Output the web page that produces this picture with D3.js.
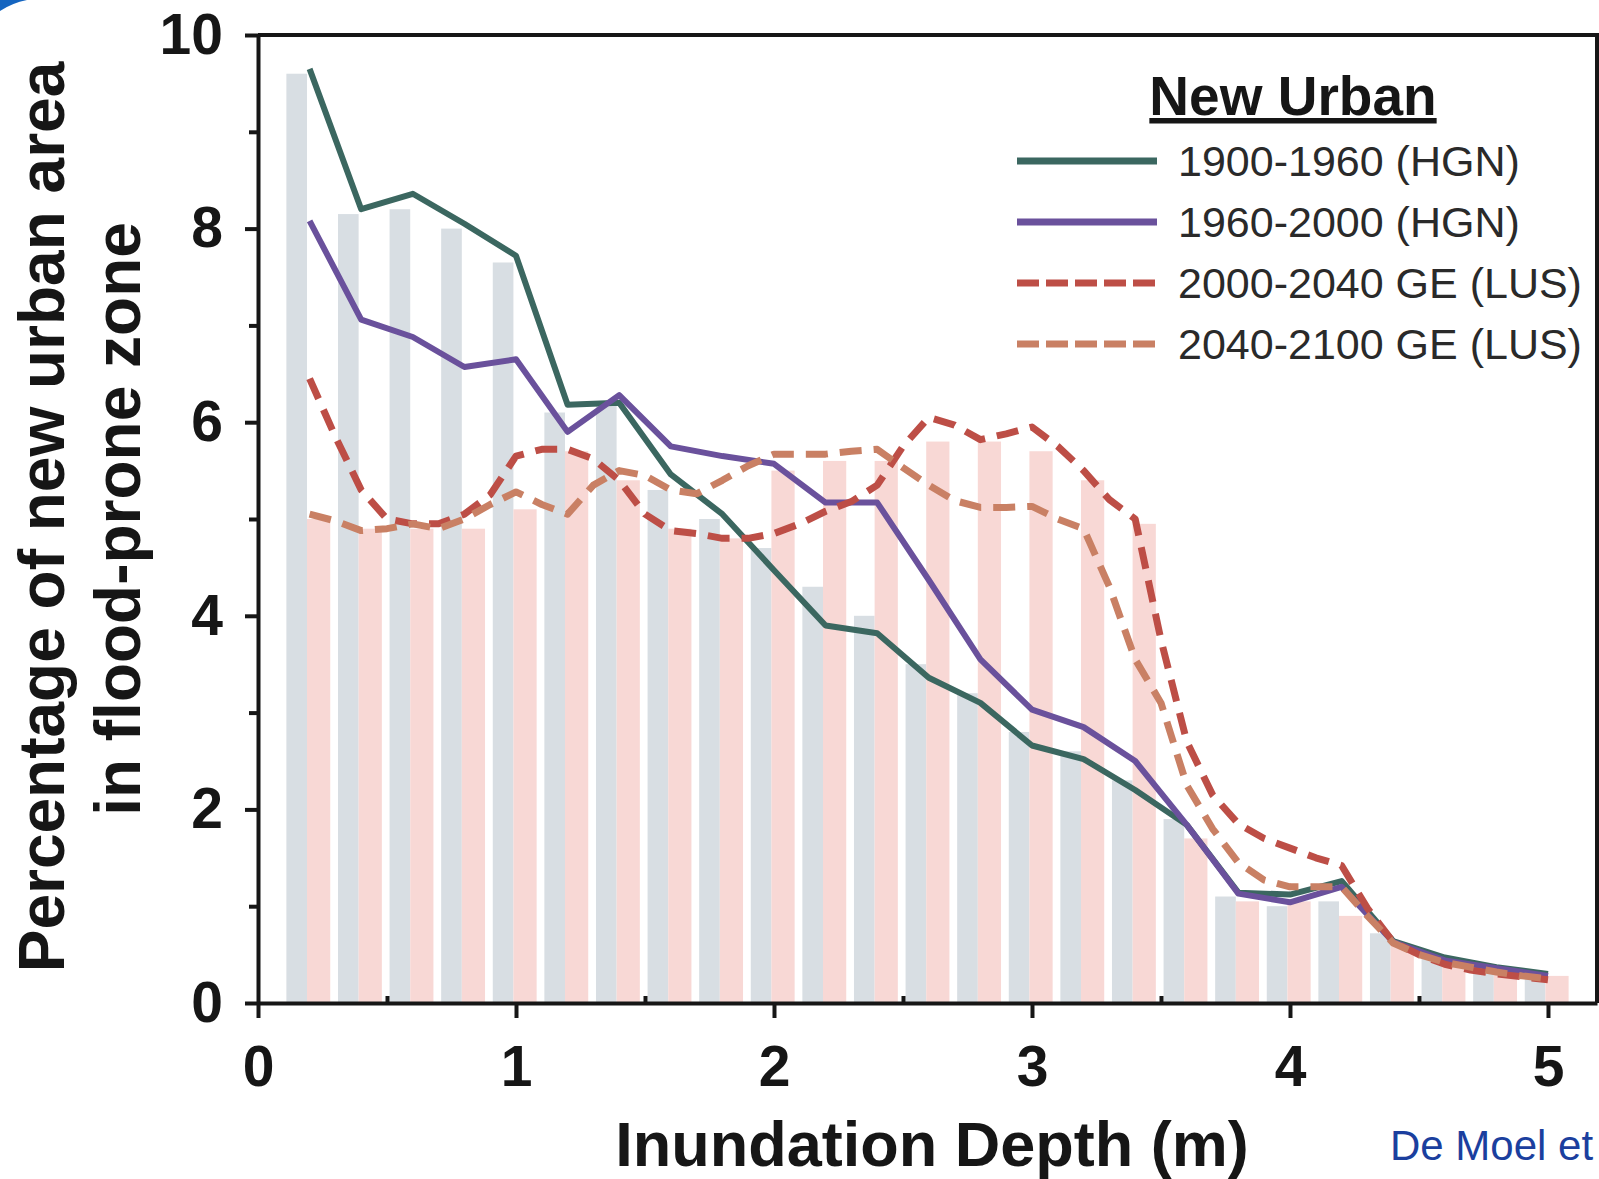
<!DOCTYPE html>
<html>
<head>
<meta charset="utf-8">
<script src="https://cdn.jsdelivr.net/npm/d3@7"></script>
<style>
  html, body { margin: 0; padding: 0; background: #fff; }
  svg { display: block; font-family: "Liberation Sans", Arial, sans-serif; }
</style>
</head>
<body>
<div id="chart"></div>
<script>
// depth classes (m) for the HGN lines and the background bars
const depth = [0.2, 0.4, 0.6, 0.8, 1.0, 1.2, 1.4, 1.6, 1.8, 2.0, 2.2, 2.4, 2.6,
  2.8, 3.0, 3.2, 3.4, 3.6, 3.8, 4.0, 4.2, 4.4, 4.6, 4.8, 5.0];

// finer depth steps for the LUS scenario lines
const depthFine = [0.2, 0.3, 0.4, 0.5, 0.6, 0.7, 0.8, 0.9, 1.0, 1.1, 1.2, 1.3, 1.4,
  1.5, 1.6, 1.7, 1.8, 1.9, 2.0, 2.1, 2.2, 2.3, 2.4, 2.5, 2.6, 2.7, 2.8, 2.9, 3.0,
  3.1, 3.2, 3.3, 3.4, 3.5, 3.6, 3.7, 3.8, 3.9, 4.0, 4.1, 4.2, 4.3, 4.4, 4.5, 4.6,
  4.7, 4.8, 4.9, 5.0];

const hgn1900 = [9.65, 8.2, 8.36, 8.05, 7.72, 6.18, 6.2, 5.46, 5.05, 4.47, 3.9, 3.82,
  3.36, 3.1, 2.66, 2.52, 2.2, 1.84, 1.14, 1.12, 1.26, 0.64, 0.47, 0.37, 0.3];

const hgn1960 = [8.08, 7.06, 6.88, 6.57, 6.65, 5.9, 6.28, 5.75, 5.65, 5.57, 5.17, 5.17,
  4.37, 3.55, 3.03, 2.85, 2.5, 1.84, 1.13, 1.04, 1.2, 0.63, 0.44, 0.36, 0.28];

const lus2040 = [6.45, 5.85, 5.3, 5.0, 4.95, 4.95, 5.05, 5.25, 5.65, 5.72, 5.72, 5.62,
  5.4, 5.05, 4.88, 4.85, 4.8, 4.8, 4.85, 4.95, 5.08, 5.18, 5.35, 5.75, 6.05, 5.97,
  5.82, 5.88, 5.95, 5.75, 5.5, 5.2, 5.0, 3.75, 2.7, 2.15, 1.85, 1.7, 1.6, 1.5, 1.42,
  0.98, 0.63, 0.5, 0.4, 0.34, 0.3, 0.27, 0.24];

const lus2100 = [5.05, 4.98, 4.88, 4.9, 4.95, 4.9, 5.0, 5.15, 5.28, 5.15, 5.05, 5.35,
  5.5, 5.45, 5.3, 5.26, 5.4, 5.55, 5.67, 5.67, 5.67, 5.7, 5.72, 5.53, 5.35, 5.19,
  5.12, 5.12, 5.13, 5.0, 4.9, 4.3, 3.55, 3.1, 2.25, 1.8, 1.45, 1.27, 1.2, 1.2, 1.2,
  0.9, 0.62, 0.5, 0.42, 0.37, 0.32, 0.28, 0.25];

// faint histogram bars behind the lines
const barsBlue = [9.6, 8.15, 8.2, 8.0, 7.65, 6.1, 6.2, 5.3, 5.0, 4.7, 4.3, 4.0, 3.5,
  3.2, 2.8, 2.6, 2.3, 1.9, 1.1, 1.0, 1.05, 0.72, 0.5, 0.38, 0.3];
const barsPink = [5.0, 4.9, 4.9, 4.9, 5.1, 5.7, 5.4, 4.9, 4.8, 5.5, 5.6, 5.6, 5.8,
  5.8, 5.7, 5.4, 4.95, 1.7, 1.05, 1.05, 0.9, 0.6, 0.45, 0.35, 0.28];

const seriesNames = ['1900-1960 (HGN)', '1960-2000 (HGN)', '2000-2040 GE (LUS)', '2040-2100 GE (LUS)'];
const xTicks = [0, 1, 2, 3, 4, 5];
const xMinorTicks = [0.5, 1.5, 2.5, 3.5, 4.5];
const yTicks = [0, 2, 4, 6, 8, 10];
const yMinorTicks = [1, 3, 5, 7, 9];

const W = 1599, H = 1179;
const FONT = '"Liberation Sans", Arial, sans-serif';
const INK = '#161616';

const series = [
  { name: seriesNames[0], xs: depth, ys: hgn1900, color: '#3b6760', dash: null, width: 6 },
  { name: seriesNames[1], xs: depth, ys: hgn1960, color: '#6a519c', dash: null, width: 6 },
  { name: seriesNames[2], xs: depthFine, ys: lus2040, color: '#bd4e46', dash: '22,12', width: 7 },
  { name: seriesNames[3], xs: depthFine, ys: lus2100, color: '#c98064', dash: '22,12', width: 7 }
];

const svg = d3.select('#chart').append('svg')
  .attr('width', W).attr('height', H);

const x = d3.scaleLinear().domain([0, 5.19]).range([258, 1597]);
const y = d3.scaleLinear().domain([0, 10]).range([1003, 35]);

// corner artifact of the slide
svg.append('path')
  .attr('d', 'M0,0 H27 Q12,3 0,11 Z')
  .attr('fill', '#1565c0');

// background bars: blue-grey left half, pink right half of each depth class
const bars = svg.append('g').attr('class', 'bars');
bars.selectAll('rect.blue')
  .data(depth.map((d, i) => ({ d, v: barsBlue[i] })))
  .enter().append('rect')
  .attr('class', 'blue')
  .attr('x', (p) => x(p.d - 0.09))
  .attr('width', x(0.08) - x(0))
  .attr('y', (p) => y(p.v))
  .attr('height', (p) => y(0) - y(p.v))
  .attr('fill', '#d8dee3');
bars.selectAll('rect.pink')
  .data(depth.map((d, i) => ({ d, v: barsPink[i] })))
  .enter().append('rect')
  .attr('class', 'pink')
  .attr('x', (p) => x(p.d - 0.01))
  .attr('width', x(0.09) - x(0))
  .attr('y', (p) => y(p.v))
  .attr('height', (p) => y(0) - y(p.v))
  .attr('fill', '#f8d8d5');

// lines
const line = d3.line().x((p) => x(p[0])).y((p) => y(p[1]));
const linesG = svg.append('g').attr('class', 'lines');
series.forEach((s) => {
  linesG.append('path')
    .attr('d', line(s.xs.map((d, i) => [d, s.ys[i]])))
    .attr('fill', 'none')
    .attr('stroke', s.color)
    .attr('stroke-width', s.width)
    .attr('stroke-linejoin', 'round')
    .attr('stroke-dasharray', s.dash);
});

// frame (top and right)
svg.append('path')
  .attr('d', `M${x(0)},${y(10)} H${x(5.19)} V${y(0)}`)
  .attr('fill', 'none')
  .attr('stroke', INK)
  .attr('stroke-width', 4);

// axes
function styleAxis(g, size) {
  g.select('.domain').attr('stroke', INK).attr('stroke-width', 4);
  g.selectAll('.tick line').attr('stroke', INK).attr('stroke-width', 4);
  g.selectAll('.tick text')
    .attr('fill', INK)
    .attr('font-family', FONT)
    .attr('font-weight', 'bold')
    .attr('font-size', size);
}

const xAxis = svg.append('g')
  .attr('transform', `translate(0,${y(0)})`)
  .call(d3.axisBottom(x).tickValues(xTicks).tickFormat(d3.format('d'))
    .tickSize(15).tickSizeOuter(0).tickPadding(28));
styleAxis(xAxis, 57);

const xMinor = svg.append('g')
  .attr('transform', `translate(0,${y(0)})`)
  .call(d3.axisTop(x).tickValues(xMinorTicks).tickFormat('').tickSize(7).tickSizeOuter(0));
styleAxis(xMinor, 0);
xMinor.select('.domain').remove();

const yAxis = svg.append('g')
  .attr('transform', `translate(${x(0)},0)`)
  .call(d3.axisLeft(y).tickValues(yTicks).tickFormat(d3.format('d'))
    .tickSize(13).tickSizeOuter(0).tickPadding(22));
styleAxis(yAxis, 57);

const yMinor = svg.append('g')
  .attr('transform', `translate(${x(0)},0)`)
  .call(d3.axisLeft(y).tickValues(yMinorTicks).tickFormat('').tickSize(9).tickSizeOuter(0));
styleAxis(yMinor, 0);
yMinor.select('.domain').remove();

// axis titles
svg.append('text')
  .attr('x', 932).attr('y', 1166)
  .attr('text-anchor', 'middle')
  .attr('font-family', FONT).attr('font-weight', 'bold').attr('font-size', 63)
  .attr('fill', INK)
  .text('Inundation Depth (m)');

const yTitle = svg.append('g').attr('font-family', FONT).attr('font-weight', 'bold')
  .attr('font-size', 64).attr('fill', INK).attr('text-anchor', 'middle');
yTitle.append('text')
  .attr('transform', 'translate(64,517) rotate(-90)')
  .text('Percentage of new urban area');
yTitle.append('text')
  .attr('transform', 'translate(140,519) rotate(-90)')
  .text('in flood-prone zone');

// legend
const legend = svg.append('g').attr('class', 'legend');
legend.append('text')
  .attr('x', 1293).attr('y', 115)
  .attr('text-anchor', 'middle')
  .attr('font-family', FONT).attr('font-weight', 'bold').attr('font-size', 55)
  .attr('fill', INK)
  .attr('text-decoration', 'underline')
  .text('New Urban');

series.forEach((s, i) => {
  const ly = 161 + i * 61;
  legend.append('line')
    .attr('x1', 1017).attr('x2', 1157)
    .attr('y1', ly).attr('y2', ly)
    .attr('stroke', s.color)
    .attr('stroke-width', 7)
    .attr('stroke-dasharray', s.dash ? '22,7' : null);
  legend.append('text')
    .attr('x', 1178).attr('y', ly + 15)
    .attr('font-family', FONT).attr('font-size', 43)
    .attr('fill', '#2a2a2a')
    .text(s.name);
});

// source note
svg.append('text')
  .attr('x', 1390).attr('y', 1160)
  .attr('font-family', FONT).attr('font-size', 42)
  .attr('fill', '#1b3f9e')
  .text('De Moel et');
</script>
</body>
</html>
